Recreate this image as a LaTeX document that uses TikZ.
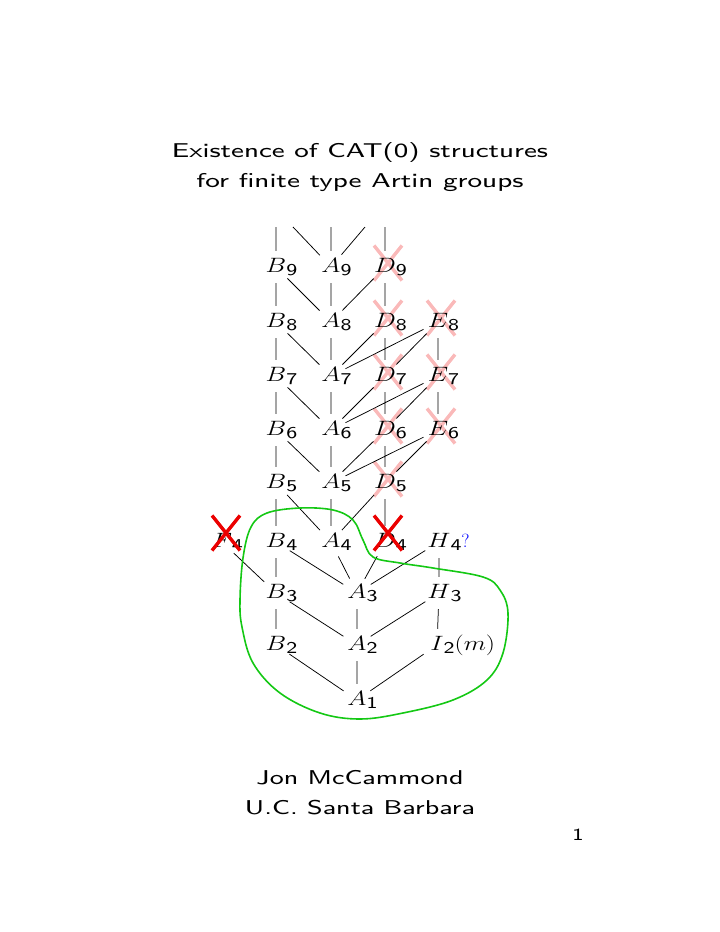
\documentclass[tikz,border=0pt]{standalone}
\usetikzlibrary{backgrounds}
\DeclareFontFamily{TU}{lmsseight}{}
\DeclareFontShape{TU}{lmsseight}{m}{n}{<-> "[lmsans8-regular]:+tlig;"}{}
\newcommand\sff{\fontencoding{TU}\fontfamily{lmsseight}\selectfont}
\newcommand\subs[1]{\raisebox{-3pt}{\sff\fontsize{16.5}{17}\selectfont #1}}
\newcommand\grp[2]{\scalebox{1.25}[1]{$#1$\rlap{\subs{#2}}}}
\newcommand\grpx[3]{\scalebox{1.25}[1]{$#1$\rlap{\subs{#2}#3}}}
\definecolor{palered}{RGB}{250,185,185}
\definecolor{hardred}{RGB}{235,0,0}
\definecolor{loopgreen}{RGB}{20,200,20}
\begin{document}
\begin{tikzpicture}[x=1pt,y=-1pt,
  v/.style={circle, inner sep=0pt, minimum size=32pt, font=\fontsize{21}{24}\selectfont},
  e/.style={line width=0.75pt},
  pale/.style={line width=3.4pt, color=palered},
  hard/.style={line width=3.4pt, color=hardred},
  loop/.style={line width=1.6pt, color=loopgreen},
  ttl/.style={anchor=base, inner sep=0pt, font=\sff\fontsize{20}{24}\selectfont}]
\useasboundingbox (0,0) rectangle (720,932);

% titles
\node[ttl] (t1) at (360,157) {\resizebox{376pt}{\height}{Existence of CAT(0) structures}};
\node[ttl] (t2) at (360,187) {\resizebox{327pt}{\height}{for finite type Artin groups}};
\node[ttl] (au1) at (360,784) {\resizebox{207pt}{\height}{Jon McCammond}};
\node[ttl] (au2) at (360,814) {\resizebox{230pt}{\height}{U.C. Santa Barbara}};
\node[ttl, font=\sff\fontsize{17}{20}\selectfont] (pg) at (578,840) {\scalebox{1.25}[1]{1}};

% nodes
\node[v] (B9) at (276,267) {\grp{B}{9}};
\node[v] (A9) at (331,267) {\grp{A}{9}};
\node[v] (D9) at (385,267) {\grp{D}{9}};
\node[v] (B8) at (276,322) {\grp{B}{8}};
\node[v] (A8) at (331,322) {\grp{A}{8}};
\node[v] (D8) at (385,322) {\grp{D}{8}};
\node[v] (E8) at (438,322) {\grp{E}{8}};
\node[v] (B7) at (276,376) {\grp{B}{7}};
\node[v] (A7) at (331,376) {\grp{A}{7}};
\node[v] (D7) at (385,376) {\grp{D}{7}};
\node[v] (E7) at (438,376) {\grp{E}{7}};
\node[v] (B6) at (276,430) {\grp{B}{6}};
\node[v] (A6) at (331,430) {\grp{A}{6}};
\node[v] (D6) at (385,430) {\grp{D}{6}};
\node[v] (E6) at (438,430) {\grp{E}{6}};
\node[v] (B5) at (276,483) {\grp{B}{5}};
\node[v] (A5) at (331,483) {\grp{A}{5}};
\node[v] (D5) at (385,483) {\grp{D}{5}};
\node[v] (F4) at (222,542) {\grp{F}{4}};
\node[v] (B4) at (276,542) {\grp{B}{4}};
\node[v] (A4) at (331,542) {\grp{A}{4}};
\node[v] (D4) at (385,542) {\grp{D}{4}};
\node[v] (H4) at (439,542) {\grpx{H}{4}{\hbox{\color{blue}\fontsize{19}{19}\selectfont\scalebox{0.8}[1]{?}}}};
\node[v] (B3) at (276,593) {\grp{B}{3}};
\node[v] (A3) at (357,593) {\grp{A}{3}};
\node[v] (H3) at (439,593) {\grp{H}{3}};
\node[v] (B2) at (276,645) {\grp{B}{2}};
\node[v] (A2) at (357,645) {\grp{A}{2}};
\node[v] (I2) at (437,645) {\grpx{I}{2}{$(m)$}};
\node[v] (A1) at (357,700) {\grp{A}{1}};

% stub ends at the top
\coordinate (tB) at (276,227);
\coordinate (tAl) at (293,227);
\coordinate (tA) at (331,227);
\coordinate (tAr) at (365,227);
\coordinate (tD) at (385,227);

% pale crosses behind
\begin{pgfonlayer}{background}
\foreach \n in {D9,D8,D7,D6,D5,E8,E7,E6}{
  \begin{scope}[shift={(\n.center)}]
    \draw[pale] (-11,-21.5) -- (17,13.5) (17,-21.5) -- (-11,13.5);
  \end{scope}
}
\end{pgfonlayer}

% connectors
\draw[e] (B9) -- (tB) (A9) -- (tAl) (A9) -- (tA) (A9) -- (tAr) (D9) -- (tD);
\draw[e] (B9) -- (B8) (B9) -- (A8) (A9) -- (A8) (D9) -- (A8) (D9) -- (D8);
\draw[e] (B8) -- (B7) (B8) -- (A7) (A8) -- (A7) (D8) -- (A7) (E8) -- (A7) (E8) -- (D7) (D8) -- (D7) (E8) -- (E7);
\draw[e] (B7) -- (B6) (B7) -- (A6) (A7) -- (A6) (D7) -- (A6) (E7) -- (A6) (E7) -- (D6) (D7) -- (D6) (E7) -- (E6);
\draw[e] (B6) -- (B5) (B6) -- (A5) (A6) -- (A5) (D6) -- (A5) (E6) -- (A5) (E6) -- (D5) (D6) -- (D5);
\draw[e] (B5) -- (B4) (B5) -- (A4) (A5) -- (A4) (D5) -- (A4) (D5) -- (D4);
\draw[e] (F4) -- (B3) (B4) -- (B3) (B4) -- (A3) (A4) -- (A3) (D4) -- (A3) (H4) -- (A3) (H4) -- (H3);
\draw[e] (B3) -- (B2) (B3) -- (A2) (A3) -- (A2) (H3) -- (A2) (H3) -- (I2);
\draw[e] (B2) -- (A1) (A2) -- (A1) (I2) -- (A1);

% solid crosses
\foreach \n/\dx in {F4/4,D4/3}{
  \begin{scope}[shift={(\n.center)}]
    \draw[hard] (\dx-14,-26.5) -- (\dx+14,8.5) (\dx+14,-26.5) -- (\dx-14,8.5);
  \end{scope}
}

% green loop
\draw[loop] plot[smooth cycle, tension=0.6] coordinates {
  (240,600) (243,558) (251,527) (267,513) (300,508) (333,510) (353,520)
  (363,540) (373,557) (400,563) (433,568) (483,577) (500,590) (508,613)
  (503,653) (487,680) (453,700) (403,713) (360,719) (320,713) (280,693)
  (253,663) (242,627)};
\end{tikzpicture}
\end{document}
